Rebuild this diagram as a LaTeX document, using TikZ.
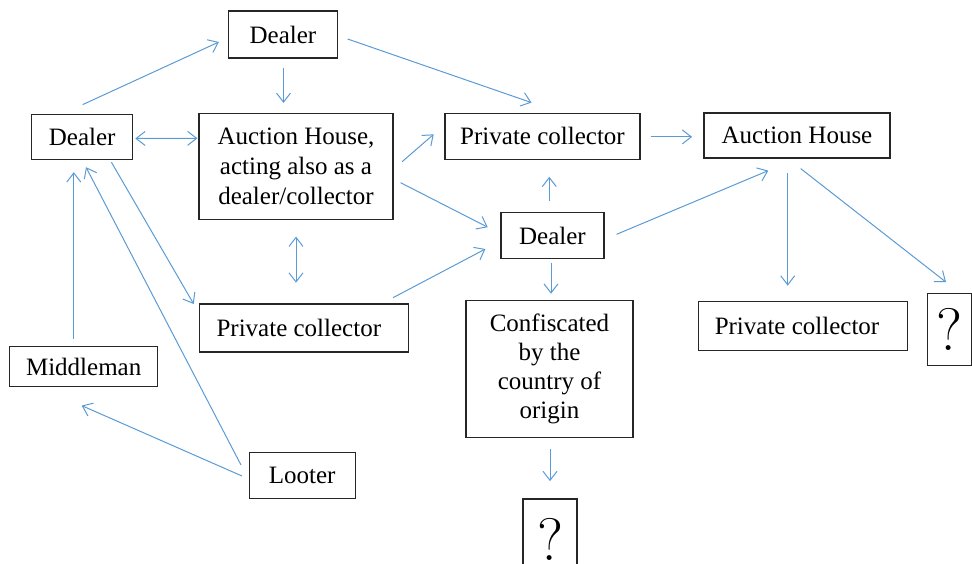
\documentclass[tikz,border=0pt]{standalone}
\usepackage{fontspec}
\newfontfamily\tnr{Liberation Serif}
\usetikzlibrary{arrows.meta,calc}
\definecolor{arrowblue}{RGB}{91,155,213}
\tikzset{
  box/.style={draw=black!85, line width=1.2pt, inner sep=0pt, align=center,
    font=\tnr\fontsize{25}{30}\selectfont},
  qbox/.style={draw=black!85, line width=1.2pt, inner sep=0pt,
    font=\fontsize{60}{64}\selectfont},
  arr/.style={draw=arrowblue, line width=1pt,
    -{Straight Barb[length=9pt,width=14pt]}},
  darr/.style={draw=arrowblue, line width=1pt,
    {Straight Barb[length=9pt,width=14pt]}-{Straight Barb[length=9pt,width=14pt]}}
}
\begin{document}
\begin{tikzpicture}[x=1pt,y=-1pt]
\useasboundingbox (0,0) rectangle (972,563);
\clip (0,0) rectangle (972,563);

\node[box, minimum width=109pt, minimum height=47pt] (dt) at (283,34.5) {Dealer};
\node[box, minimum width=101pt, minimum height=45pt] (dl) at (82.2,136.7) {Dealer};
\node[box, minimum width=194pt, minimum height=106pt] (ah) at (296,166.5) {Auction House,\\acting also as a\\dealer/collector};
\node[box, minimum width=195pt, minimum height=46pt] (pcm) at (542.5,136.2) {Private collector};
\node[box, minimum width=186pt, minimum height=45pt] (ahr) at (797,135.5) {Auction House};
\node[box, minimum width=103pt, minimum height=46pt] (dm) at (552.5,235.5) {Dealer};
\node[box, minimum width=209pt, minimum height=48pt] (pcl) at (303.8,328) {Private collector\hspace*{10pt}};
\node[box, minimum width=167pt, minimum height=137pt, font=\tnr\fontsize{25}{29}\selectfont] (conf) at (549.5,369.2) {Confiscated\\by the\\country of\\origin};
\node[box, minimum width=209pt, minimum height=49pt] (pcr) at (803,326.2) {Private collector\hspace*{12pt}};
\node[qbox, minimum width=44pt, minimum height=72pt] (qr) at (949.7,329.2) {?};
\node[box, minimum width=148pt, minimum height=40pt] (mm) at (83.7,366.7) {Middleman};
\node[box, minimum width=106pt, minimum height=46pt] (lt) at (302.2,475.3) {Looter};
\node[qbox, minimum width=54pt, minimum height=80pt] (qb) at (550,539) {?};

\draw[arr] ($(dl.north)+(0.5,-9)$) -- ($(dt.west)+(-9,7.5)$);
\draw[arr] ($(dt.south)+(0.5,9)$) -- ($(ah.north)+(-12.5,-10)$);
\draw[arr] ($(dt.east)+(9.5,4.5)$) -- ($(pcm.north)+(-11,-10)$);
\draw[darr] ($(dl.east)+(2,1.8)$) -- ($(ah.west)+(-1,-28.2)$);
\draw[arr] ($(ah.east)+(8.5,-4.8)$) -- ($(pcm.west)+(-10.7,-1.9)$);
\draw[arr] ($(ah.east)+(7,16.2)$) -- ($(dm.west)+(-12.7,-8.3)$);
\draw[darr] ($(ah.south)+(0,16.5)$) -- ($(pcl.north)+(-7.8,-20.7)$);
\draw[arr] ($(pcl.north east)+(-15.9,-5.7)$) -- ($(dm.west)+(-15,13.5)$);
\draw[arr] ($(dm.north)+(-3.2,-11)$) -- ($(pcm.south)+(6.8,17)$);
\draw[arr] ($(pcm.east)+(10,0.7)$) -- ($(ahr.west)+(-11.3,1.4)$);
\draw[arr] ($(dm.east)+(12,-1.2)$) -- ($(ahr.south)+(-28.7,12)$);
\draw[arr] ($(dm.south)+(-1.5,3.4)$) -- ($(conf.north)+(1.5,-6.4)$);
\draw[arr] ($(ahr.south)+(-9.3,14.4)$) -- ($(pcr.north)+(-15.3,-15.5)$);
\draw[arr] ($(ahr.south)+(3.7,10)$) -- ($(qr.north)+(-3.7,-10.5)$);
\draw[arr] ($(dl.south)+(29.2,2.4)$) -- ($(pcl.west)+(-5,-24)$);
\draw[arr] ($(mm.north)+(-9.9,-7.4)$) -- ($(dl.south)+(-8.4,12.4)$);
\draw[arr] ($(lt.west)+(-7.6,-10.3)$) -- ($(dl.south)+(3.8,7.4)$);
\draw[arr] ($(lt.west)+(-6.6,0.7)$) -- ($(mm.south)+(-2,18.3)$);
\draw[arr] ($(conf.south)+(0.5,10.6)$) -- ($(qb.north)+(0,-17.3)$);
\end{tikzpicture}
\end{document}
